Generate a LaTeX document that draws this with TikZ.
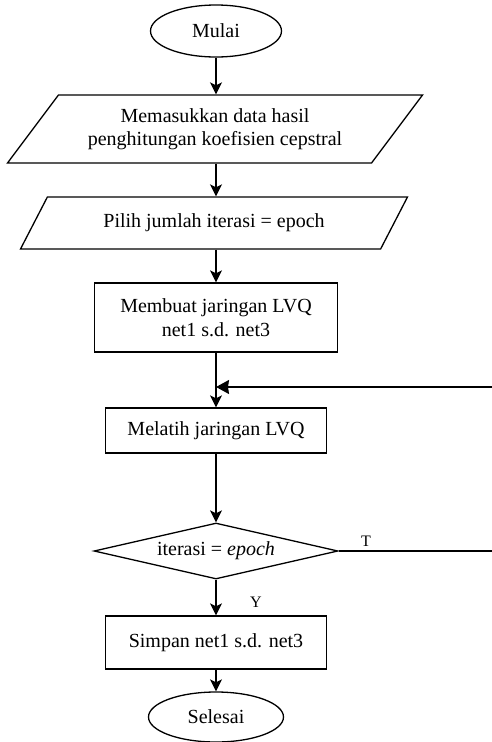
\documentclass[tikz,border=0pt]{standalone}
\usepackage{fontspec}
\setmainfont{Liberation Serif}
\usetikzlibrary{positioning,shapes.geometric,arrows.meta}
\tikzset{
  base/.style={draw=black,line width=1.3pt,inner sep=0pt,align=center,
    font=\fontsize{20}{23.5}\selectfont},
  term/.style={base,ellipse},
  io/.style={base,trapezium,trapezium stretches body},
  proc/.style={base,rectangle},
  cond/.style={base,diamond,aspect=4.4},
  arr/.style={line width=1.3pt,-{Stealth[length=12pt,width=12pt,inset=3pt]}},
  back/.style={line width=1.3pt,-{Stealth[length=13pt,width=14pt,inset=1pt]}},
  lbl/.style={font=\fontsize{16}{18}\selectfont,inner sep=0pt},
}

\begin{document}
\begin{tikzpicture}[x=1pt,y=-1pt]
\useasboundingbox (0,0) rectangle (492,742);
\node[term,minimum width=131pt,minimum height=52pt] (mulai) at (216,31) {Mulai};
\node[io,trapezium left angle=39.3,trapezium right angle=140.7,
  minimum width=415pt,minimum height=68pt] (input) at (215,129)
  {Memasukkan data hasil\\penghitungan koefisien cepstral};
\node[io,trapezium left angle=34,trapezium right angle=146,
  minimum width=387pt,minimum height=52pt] (pilih) at (214,223)
  {Pilih jumlah iterasi = epoch};
\node[proc,minimum width=243pt,minimum height=69pt] (buat) at (216,317.5)
  {Membuat jaringan LVQ\\net1 s.d. net3};
\node[proc,minimum width=221pt,minimum height=45pt] (latih) at (216,430.5)
  {Melatih jaringan LVQ};
\node[cond,minimum width=244pt,minimum height=56pt] (cek) at (216,551)
  {iterasi = \textit{epoch}};
\node[proc,minimum width=221pt,minimum height=53pt] (simpan) at (216,642.5)
  {Simpan net1 s.d. net3};
\node[term,minimum width=135pt,minimum height=50pt] (selesai) at (216,717) {Selesai};
\coordinate (gabung) at (216,387);
\coordinate (kanan1) at (492,387);
\coordinate (kanan2) at (492,551);
\draw[arr] (mulai) -- (mulai |- input.north);
\draw[arr] (input.south -| mulai) -- (mulai |- pilih.north);
\draw[arr] (pilih.south -| mulai) -- (buat);
\draw[arr] (buat) -- (latih);
\draw[back] (kanan1) -- (gabung);
\draw[arr] (latih) -- (cek);
\draw[line width=1.3pt] (cek.east) -- (kanan2);
\node[lbl] (t) at (366,541) {T};
\draw[arr] (cek) -- (simpan);
\node[lbl] (y) at (256,602) {Y};
\draw[arr] (simpan) -- (selesai);
\end{tikzpicture}
\end{document}
